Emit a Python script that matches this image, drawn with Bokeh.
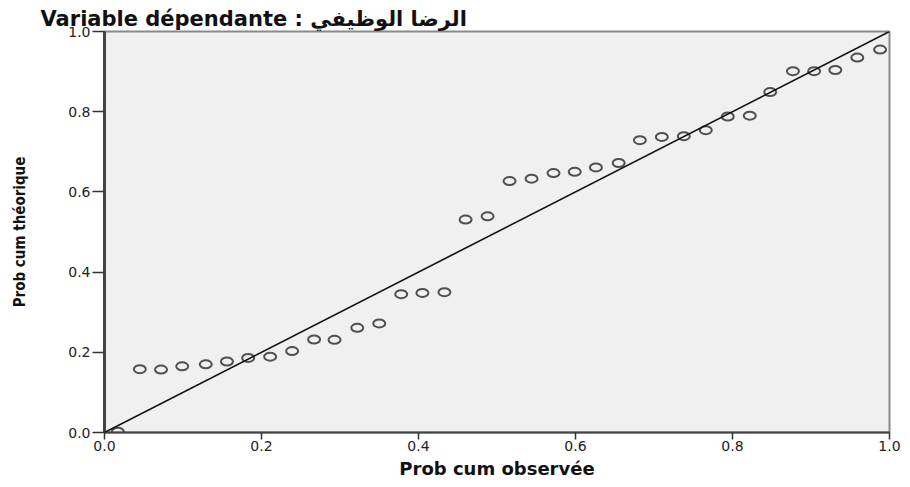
from bokeh.plotting import figure
from bokeh.models import ColumnDataSource, FixedTicker, NumeralTickFormatter, Slope
from bokeh.embed import file_html
from bokeh.resources import INLINE

# Normal P-P plot of the regression standardized residuals
observed_cum_prob = [
    0.017, 0.045, 0.072, 0.099, 0.129, 0.156, 0.183, 0.211, 0.239, 0.267,
    0.293, 0.322, 0.350, 0.378, 0.405, 0.433, 0.460, 0.488, 0.516, 0.544,
    0.572, 0.599, 0.626, 0.655, 0.682, 0.710, 0.738, 0.766, 0.794, 0.822,
    0.848, 0.877, 0.904, 0.931, 0.959, 0.988,
]
expected_cum_prob = [
    0.002, 0.158, 0.157, 0.165, 0.170, 0.177, 0.186, 0.189, 0.203, 0.232,
    0.231, 0.261, 0.272, 0.345, 0.348, 0.350, 0.531, 0.539, 0.627, 0.633,
    0.647, 0.650, 0.661, 0.672, 0.729, 0.737, 0.739, 0.754, 0.788, 0.790,
    0.849, 0.901, 0.901, 0.904, 0.935, 0.955,
]
tick_values = [0.0, 0.2, 0.4, 0.6, 0.8, 1.0]

title_text = "Variable dépendante : الرضا الوظيفي"
x_label = "Prob cum observée"
y_label = "Prob cum théorique"

source = ColumnDataSource(data=dict(x=observed_cum_prob, y=expected_cum_prob))

p = figure(
    width=910, height=487,
    x_range=(0, 1), y_range=(0, 1),
    output_backend="svg", toolbar_location=None,
    min_border_left=104, min_border_right=21,
    min_border_top=31, min_border_bottom=55,
    background_fill_color="#f0f0f0", border_fill_color="white",
)

# title
p.title.text = title_text
p.title.align = "left"
p.title.offset = -64
p.title.standoff = 2
p.title.text_font = "DejaVu Sans"
p.title.text_font_size = "21px"
p.title.text_font_style = "bold"
p.title.text_color = "#111111"

p.grid.visible = False
p.outline_line_color = "#8a8a8a"
p.outline_line_width = 2

# axes
for ax in (p.xaxis[0], p.yaxis[0]):
    ax.ticker = FixedTicker(ticks=tick_values)
    ax.formatter = NumeralTickFormatter(format="0.0")
    ax.minor_tick_line_color = None
    ax.major_tick_in = 0
    ax.major_tick_line_color = "#333333"
    ax.major_tick_line_width = 1.5
    ax.axis_line_color = "#444444"
    ax.major_label_text_font = "DejaVu Sans"
    ax.major_label_text_font_size = "14px"
    ax.major_label_text_color = "#222222"
    ax.axis_label_text_font_style = "bold"
    ax.axis_label_text_color = "#111111"

p.xaxis.axis_line_width = 2
p.xaxis.major_tick_out = 7
p.xaxis.major_label_standoff = 1
p.xaxis.axis_label = x_label
p.xaxis.axis_label_text_font = "DejaVu Sans"
p.xaxis.axis_label_text_font_size = "18px"
p.xaxis.axis_label_standoff = 4

p.yaxis.axis_line_width = 3
p.yaxis.major_tick_out = 12
p.yaxis.major_label_standoff = 2
p.yaxis.axis_label = y_label
p.yaxis.axis_label_text_font = "DejaVu Sans Condensed"
p.yaxis.axis_label_text_font_size = "15px"
p.yaxis.axis_label_standoff = 36

# reference diagonal
p.add_layout(Slope(gradient=1, y_intercept=0, line_color="#111111", line_width=1.6))

# observed points as open markers
p.ellipse(
    x="x", y="y", source=source,
    width=12, height=8, width_units="screen", height_units="screen",
    fill_color=None, line_color="#505050", line_width=2,
)

open("out.html", "w").write(file_html(p, INLINE))
